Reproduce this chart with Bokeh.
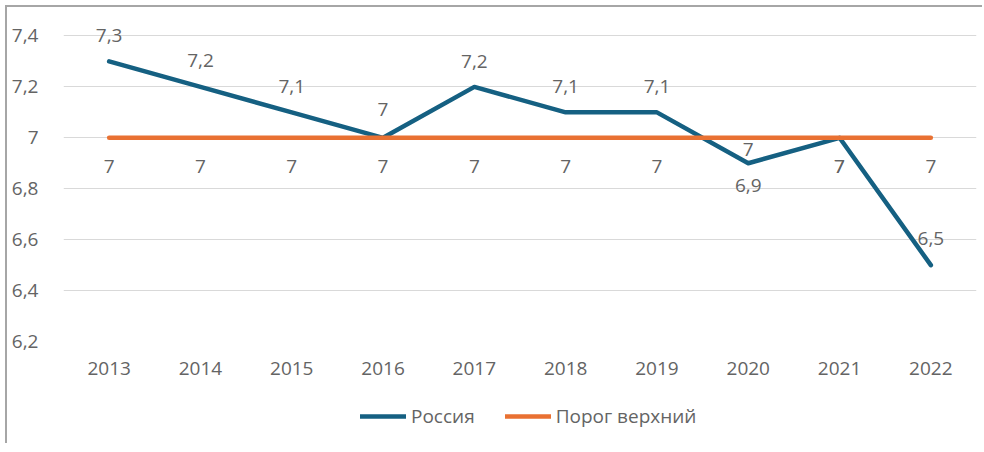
from bokeh.plotting import figure
from bokeh.models import ColumnDataSource, Legend, LegendItem, FixedTicker, Range1d
from bokeh.layouts import column
from bokeh.core.properties import value
from bokeh.embed import file_html
from bokeh.resources import INLINE

years = ["2013", "2014", "2015", "2016", "2017", "2018", "2019", "2020", "2021", "2022"]
russia = [7.3, 7.2, 7.1, 7.0, 7.2, 7.1, 7.1, 6.9, 7.0, 6.5]
threshold = [7.0, 7.0, 7.0, 7.0, 7.0, 7.0, 7.0, 7.0, 7.0, 7.0]
y_ticks = [6.2, 6.4, 6.6, 6.8, 7.0, 7.2, 7.4]
series_names = ["Россия", "Порог верхний"]

def fmt(v):
    return f"{v:g}".replace(".", ",")

# label offsets (screen px, positive = down)
russia_dy = [-26, -26, -26, -28, -25, -26, -26, 22, 29, -27]
thr_dy = [29, 29, 29, 29, 29, 29, 29, 12, 29, 29]

FONT = "Open Sans"
FS = "19px"
GREY = "#646464"
BLUE = "#156082"
ORANGE = "#E97132"

src_r = ColumnDataSource(dict(x=years, y=russia, lab=[fmt(v) for v in russia], dy=russia_dy))
src_t = ColumnDataSource(dict(x=years, y=threshold, lab=[fmt(v) for v in threshold], dy=thr_dy))

p = figure(x_range=years, y_range=Range1d(6.2, 7.5), frame_width=913, frame_height=331,
           output_backend="svg", toolbar_location=None,
           min_border_left=56, min_border_right=8, min_border_top=3, min_border_bottom=44)
p.outline_line_color = None

p.line("x", "y", source=src_r, line_color=BLUE, line_width=4.5, line_cap="round", line_join="round")
p.line("x", "y", source=src_t, line_color=ORANGE, line_width=4.5, line_cap="round", line_join="round")

for src in (src_r, src_t):
    p.text("x", "y", text="lab", source=src, y_offset="dy", text_align="center",
           text_baseline="middle", text_font=value(FONT), text_font_size=FS, text_color=GREY)

p.yaxis.ticker = FixedTicker(ticks=y_ticks)
p.yaxis.major_label_overrides = {t: fmt(t) for t in y_ticks}
for ax in (p.xaxis, p.yaxis):
    ax.axis_line_color = None
    ax.major_tick_line_color = None
    ax.minor_tick_line_color = None
    ax.major_label_text_font = FONT
    ax.major_label_text_font_size = FS
    ax.major_label_text_color = GREY
p.yaxis.major_label_standoff = 19
p.xaxis.major_label_standoff = 14

p.xgrid.grid_line_color = None
p.ygrid.grid_line_color = "#d9d9d9"
p.ygrid.grid_line_width = 1

# legend strip below the chart (series drawn out of view, only the legend shows)
lf = figure(width=977, height=60, x_range=years, y_range=Range1d(100, 101),
            x_axis_type=None, y_axis_type=None, output_backend="svg", toolbar_location=None,
            min_border=0)
lf.outline_line_color = None
lf.grid.visible = False
g1 = lf.line("x", "y", source=src_r, line_color=BLUE, line_width=4.5, line_cap="round")
g2 = lf.line("x", "y", source=src_t, line_color=ORANGE, line_width=4.5, line_cap="round")
legend = Legend(items=[LegendItem(label=series_names[0], renderers=[g1]),
                       LegendItem(label=series_names[1], renderers=[g2])],
                orientation="horizontal", location=(297, 16),
                glyph_width=46, glyph_height=20, label_standoff=5, spacing=30,
                padding=0, margin=0, border_line_color=None, background_fill_alpha=0,
                label_text_font=FONT, label_text_font_size=FS, label_text_color=GREY)
lf.add_layout(legend, "center")

layout = column(p, lf, spacing=0)
layout.styles = {"margin-left": "7px", "margin-top": "7px", "box-shadow": "-2px -2px 0 0 #a6a6a6"}

open("out.html", "w").write(file_html(layout, INLINE))
